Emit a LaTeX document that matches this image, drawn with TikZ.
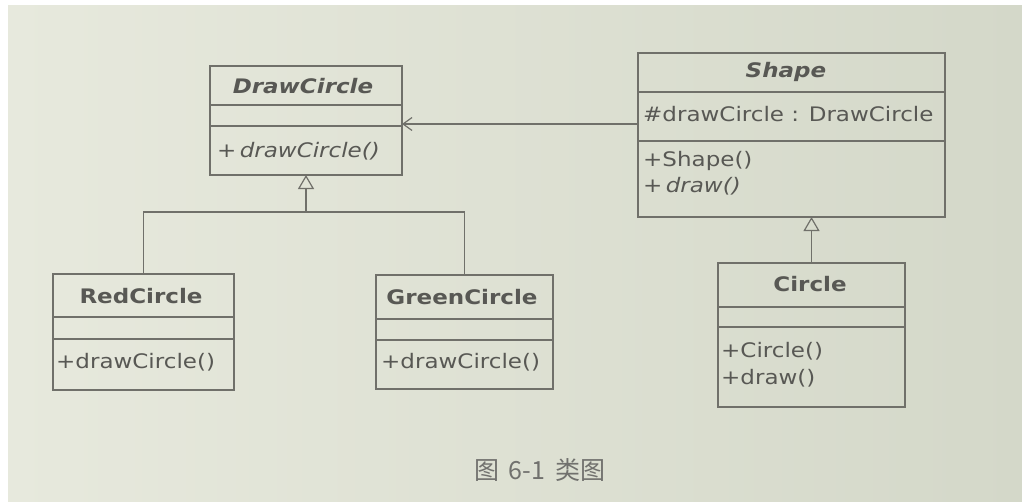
\documentclass[tikz,border=0pt]{standalone}
\usepackage{fontspec}
\setmainfont{DejaVu Sans}[FakeStretch=1.15]
\newfontfamily\cjk{Noto Sans CJK SC}
\usetikzlibrary{arrows.meta}
\definecolor{paperL}{RGB}{231,233,221}
\definecolor{paperR}{RGB}{212,216,201}
\definecolor{ink}{RGB}{112,112,106}
\definecolor{txt}{RGB}{88,88,84}
\begin{document}
\begin{tikzpicture}[x=1pt,y=-1pt,
  umlbox/.style={draw=ink, line width=1.2pt, inner sep=0pt, outer sep=0pt},
  sepline/.style={draw=ink, line width=1.1pt},
  conn/.style={draw=ink, line width=1.2pt},
  title/.style={text=txt, font=\fontsize{20}{22}\selectfont\bfseries, inner sep=0pt},
  ititle/.style={text=txt, font=\fontsize{20}{22}\selectfont\bfseries\itshape, inner sep=0pt},
  member/.style={text=txt, font=\fontsize{20}{22}\selectfont, inner sep=0pt, anchor=west},
  caption/.style={text=txt!85, font=\cjk\fontsize{25}{28}\selectfont, inner sep=0pt},
  gen/.style={-{Triangle[open, length=14pt, width=16pt]}},
  nav/.style={-{Straight Barb[length=9pt, width=13pt]}}
]
\useasboundingbox (0,0) rectangle (1022,501);
\fill[white] (0,0) rectangle (1022,501);
\shade[left color=paperL, right color=paperR] (8,5) rectangle (1022,501);

% DrawCircle
\node[umlbox, minimum width=192pt, minimum height=109pt] (dc) at (306,120.5) {};
\draw[sepline] (dc.west |- 0,105) -- (dc.east |- 0,105);
\draw[sepline] (dc.west |- 0,126) -- (dc.east |- 0,126);
\node[ititle] (dcT) at (303,86) {DrawCircle};
\node[member] (dcO) at (217,151) {+\,\textit{drawCircle()}};

% Shape
\node[umlbox, minimum width=307pt, minimum height=164pt] (sh) at (791.5,135) {};
\draw[sepline] (sh.west |- 0,92) -- (sh.east |- 0,92);
\draw[sepline] (sh.west |- 0,141) -- (sh.east |- 0,141);
\node[ititle] (shT) at (786,72) {Shape};
\node[member] (shA) at (643,114) {\#drawCircle : DrawCircle};
\node[member] (shO1) at (643,161) {+Shape()};
\node[member] (shO2) at (643,186) {+\,\textit{draw()}};

% RedCircle
\node[umlbox, minimum width=181pt, minimum height=116pt] (rc) at (143.5,332) {};
\draw[sepline] (rc.west |- 0,317) -- (rc.east |- 0,317);
\draw[sepline] (rc.west |- 0,339) -- (rc.east |- 0,339);
\node[title] (rcT) at (141,296) {RedCircle};
\node[member] (rcO) at (56,362) {+drawCircle()};

% GreenCircle
\node[umlbox, minimum width=177pt, minimum height=114pt] (gc) at (464.5,332) {};
\draw[sepline] (gc.west |- 0,319) -- (gc.east |- 0,319);
\draw[sepline] (gc.west |- 0,340) -- (gc.east |- 0,340);
\node[title] (gcT) at (462,297) {GreenCircle};
\node[member] (gcO) at (381,362) {+drawCircle()};

% Circle
\node[umlbox, minimum width=187pt, minimum height=144pt] (ci) at (811.5,335) {};
\draw[sepline] (ci.west |- 0,307) -- (ci.east |- 0,307);
\draw[sepline] (ci.west |- 0,327) -- (ci.east |- 0,327);
\node[title] (ciT) at (810,284) {Circle};
\node[member] (ciO1) at (721,351) {+Circle()};
\node[member] (ciO2) at (721,378) {+draw()};

% connectors
\coordinate (jn) at (306,212);
\draw[conn] (rc.north) |- (jn) -| (gc.north);
\draw[conn, gen] (jn) -- (dc.south);
\draw[conn, gen] (ci.north) -- (ci.north |- sh.south);
\coordinate (as) at (0,124);
\draw[conn, nav] (sh.west |- as) -- (dc.east |- as);

% caption
\node[caption] (cap) at (540,470) {图\hspace{0.35em}6-1\hspace{0.4em}类图};
\end{tikzpicture}
\end{document}
